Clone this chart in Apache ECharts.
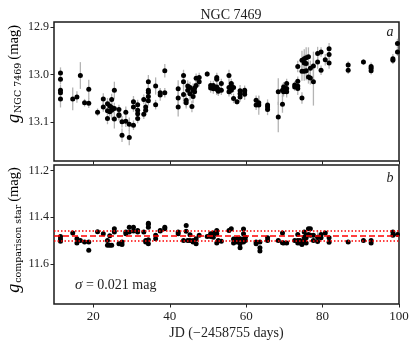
<!DOCTYPE html>
<html>
<head>
<meta charset="utf-8">
<script src="https://cdn.jsdelivr.net/npm/echarts@6/dist/echarts.min.js"></script>
<style>
  html, body { margin: 0; padding: 0; background: #fff; }
  #chart { width: 415px; height: 347px; }
</style>
</head>
<body>
<div id="chart"></div>
<script>
// NGC 7469 light curve (panel a)
const ngcJD = [
  11.4, 11.4, 11.4, 11.4, 11.4, 14.6, 15.7, 16.6, 17.7, 18.8, 18.8,
  21.1, 22.6, 22.6, 23.7, 23.7, 23.7, 24.3, 24.3, 24.8, 24.8, 24.8,
  25.5, 25.5, 25.5, 26.7, 26.7, 26.7, 27.5, 27.5, 28.5, 28.5, 29.4, 29.4,
  30.5, 30.5, 30.5, 31.6, 31.6, 31.6, 31.6, 33.2, 33.2, 33.7, 33.7,
  34.4, 34.4, 34.4, 34.4, 34.4, 36.3, 36.3, 37.5, 37.5, 38.7, 38.7,
  42.2, 42.2, 42.2, 43.6, 43.6, 43.6, 44.3, 44.3, 44.7, 44.7, 45.3, 45.3,
  45.8, 46.1, 46.1, 46.5, 46.5, 46.9, 46.9, 47.7, 47.7,
  49.8, 50.7, 50.7, 51.4, 51.4, 52.3, 52.3, 52.3, 52.3, 52.7, 52.7,
  53.5, 53.5, 55.5, 55.5, 55.5, 56.1, 56.1, 56.1, 56.7, 56.7, 57.6,
  58.4, 58.4, 58.4, 59.6, 59.6, 59.6,
  62.6, 62.6, 63.3, 63.3, 65.6, 65.6, 65.6, 68.4, 68.4, 69.5, 69.5,
  69.8, 69.8, 70.6, 70.6, 70.6,
  72.7, 72.7, 73.5, 73.5, 73.5, 73.5, 74.6, 74.6, 74.6, 75.2, 75.2, 75.2,
  75.7, 75.7, 75.7, 76.3, 76.3, 76.8, 76.8, 77.6, 77.6, 78.7, 78.7,
  79.6, 79.6, 80.7, 81.7, 81.7, 81.7,
  86.7, 86.7, 90.7, 92.7, 92.7, 92.7, 98.4, 98.4, 99.6, 99.6
];
const ngcMag = [
  12.997, 13.010, 13.033, 13.038, 13.051, 13.051, 13.047, 13.002, 13.059, 13.031, 13.060,
  13.079, 13.051, 13.068, 13.061, 13.076, 13.092, 13.066, 13.078, 13.052, 13.069, 13.075,
  13.033, 13.071, 13.093, 13.073, 13.084, 13.086, 13.099, 13.127, 13.079, 13.098, 13.104, 13.132,
  13.057, 13.068, 13.106, 13.063, 13.075, 13.082, 13.092, 13.052, 13.083, 13.068, 13.075,
  13.015, 13.033, 13.037, 13.046, 13.055, 13.024, 13.063, 13.038, 13.043, 12.992, 13.038,
  13.030, 13.049, 13.068, 13.002, 13.015, 13.042, 13.054, 13.059, 13.024, 13.033, 13.027, 13.040,
  13.067, 13.033, 13.046, 13.028, 13.036, 13.008, 13.023, 13.006, 13.015,
  12.999, 13.023, 13.028, 13.023, 13.030, 13.006, 13.010, 13.026, 13.031, 13.031, 13.035,
  13.019, 13.033, 13.002, 13.027, 13.036, 13.019, 13.024, 13.033, 13.027, 13.050, 13.057,
  13.034, 13.040, 13.047, 13.033, 13.036, 13.041,
  13.054, 13.064, 13.059, 13.064, 13.064, 13.068, 13.073, 13.036, 13.089, 13.033, 13.062,
  13.026, 13.036, 13.019, 13.029, 13.036,
  13.022, 13.026, 12.983, 13.014, 13.024, 13.029, 12.970, 12.993, 13.049, 12.967, 12.976, 12.993,
  12.965, 12.977, 12.992, 12.963, 13.005, 12.987, 13.007, 12.982, 13.015, 12.956, 12.974,
  12.953, 12.991, 12.969, 12.946, 12.958, 12.976,
  12.980, 12.991, 12.974, 12.983, 12.987, 12.992, 12.967, 12.970, 12.935, 12.953
];
const ngcErr = [
  0.012, 0.010, 0.012, 0.012, 0.018, 0.024, 0.012, 0.028, 0.008, 0.020, 0.010,
  0.008, 0.012, 0.010, 0.012, 0.010, 0.012, 0.010, 0.010, 0.012, 0.010, 0.020,
  0.018, 0.012, 0.020, 0.010, 0.010, 0.010, 0.012, 0.014, 0.012, 0.012, 0.014, 0.016,
  0.012, 0.010, 0.010, 0.010, 0.012, 0.010, 0.010, 0.010, 0.010, 0.012, 0.010,
  0.014, 0.012, 0.010, 0.010, 0.010, 0.018, 0.010, 0.010, 0.012, 0.014, 0.010,
  0.018, 0.014, 0.020, 0.012, 0.012, 0.020, 0.014, 0.012, 0.012, 0.010, 0.012, 0.014,
  0.012, 0.014, 0.014, 0.010, 0.012, 0.010, 0.010, 0.010, 0.010,
  0.006, 0.010, 0.010, 0.010, 0.010, 0.010, 0.012, 0.010, 0.012, 0.010, 0.010,
  0.010, 0.010, 0.012, 0.014, 0.010, 0.010, 0.010, 0.010, 0.010, 0.010, 0.006,
  0.012, 0.010, 0.010, 0.010, 0.010, 0.012,
  0.010, 0.010, 0.014, 0.020, 0.012, 0.010, 0.012, 0.028, 0.032, 0.014, 0.018,
  0.010, 0.010, 0.010, 0.010, 0.012,
  0.008, 0.008, 0.012, 0.010, 0.012, 0.014, 0.020, 0.020, 0.012, 0.020, 0.018, 0.020,
  0.022, 0.020, 0.020, 0.020, 0.014, 0.016, 0.014, 0.030, 0.050, 0.014, 0.014,
  0.010, 0.010, 0.012, 0.012, 0.010, 0.012,
  0.008, 0.008, 0.006, 0.008, 0.008, 0.008, 0.010, 0.008, 0.010, 0.008
];

// comparison star (panel b)
const compJD = [
  11.4, 11.4, 11.4, 14.6, 15.7, 15.7, 16.6, 17.7, 18.8, 18.8,
  21.1, 22.6, 23.7, 23.7, 24.3, 24.3, 24.8, 25.5, 25.5, 26.7, 27.5, 27.5,
  28.5, 28.5, 29.4, 29.4, 30.5, 30.5, 31.6, 31.6, 33.2, 33.7, 33.7,
  34.4, 34.4, 34.4, 34.4, 34.4, 36.3, 36.3, 37.5, 37.5, 38.7, 38.7,
  42.2, 42.2, 43.6, 44.3, 44.3, 44.7, 45.3, 45.3, 46.1, 46.1, 46.9, 46.9, 47.7,
  49.8, 50.7, 50.7, 51.4, 51.4, 52.3, 52.3, 52.3, 52.7, 53.5,
  55.5, 56.1, 56.7, 56.7, 57.6, 57.6, 58.4, 58.4, 58.4, 59.3, 59.3, 59.3, 59.3, 59.8, 59.8,
  62.6, 62.6, 63.6, 63.6, 63.6, 65.6, 65.6, 68.4, 69.5, 69.5, 69.8, 70.6,
  72.7, 73.5, 73.5, 73.5, 74.1, 74.1, 74.6, 74.6, 75.2, 75.2, 75.2,
  75.7, 75.7, 75.7, 76.3, 76.3, 76.8, 76.8, 77.6, 77.6, 78.7, 78.7,
  79.6, 79.6, 80.7, 81.7, 81.7, 86.7, 90.7, 92.7, 92.7, 98.4, 98.4, 99.6
];
const compMag = [
  11.483, 11.494, 11.503, 11.468, 11.493, 11.511, 11.500, 11.507, 11.507, 11.542,
  11.463, 11.471, 11.500, 11.520, 11.480, 11.520, 11.520, 11.450, 11.464, 11.514, 11.507, 11.517,
  11.464, 11.471, 11.443, 11.464, 11.443, 11.460, 11.457, 11.464, 11.464, 11.500, 11.507,
  11.426, 11.431, 11.443, 11.497, 11.514, 11.478, 11.493, 11.457, 11.460, 11.443, 11.450,
  11.464, 11.471, 11.500, 11.436, 11.461, 11.500, 11.476, 11.500, 11.500, 11.507, 11.493, 11.514, 11.478,
  11.483, 11.471, 11.483, 11.468, 11.486, 11.457, 11.471, 11.511, 11.500, 11.503,
  11.457, 11.450, 11.494, 11.511, 11.493, 11.507, 11.493, 11.514, 11.531, 11.451, 11.471, 11.493, 11.507, 11.486, 11.500,
  11.507, 11.514, 11.507, 11.531, 11.545, 11.488, 11.500, 11.500, 11.468, 11.510, 11.511, 11.511,
  11.500, 11.474, 11.500, 11.511, 11.500, 11.511, 11.511, 11.517, 11.464, 11.486, 11.500,
  11.478, 11.488, 11.511, 11.450, 11.474, 11.450, 11.478, 11.478, 11.500, 11.486, 11.504,
  11.474, 11.488, 11.468, 11.488, 11.508, 11.507, 11.500, 11.500, 11.511, 11.464, 11.478, 11.474
];
const compMean = 11.48;
const compSigma = 0.021;

const jdTicks = [20, 40, 60, 80, 100];
const ngcTicks = [12.9, 13.0, 13.1];
const compTicks = [11.2, 11.4, 11.6];

const ngcData = ngcJD.map((x, i) => [x, ngcMag[i], ngcErr[i]]);
const compData = compJD.map((x, i) => [x, compMag[i], i === 114 ? 0.03 : 0.005]);

const FONT = 'Liberation Serif';
const INK = '#222';

function errBars(params, api) {
  const x = api.value(0), y = api.value(1), e = api.value(2);
  const p1 = api.coord([x, y - e]);
  const p2 = api.coord([x, y + e]);
  return {
    type: 'line',
    shape: { x1: p1[0], y1: p1[1], x2: p2[0], y2: p2[1] },
    style: { stroke: '#b4b4b4', lineWidth: 1.3 }
  };
}

function yAxis(grid, min, max, ticks) {
  return {
    type: 'value', gridIndex: grid, inverse: true, min: min, max: max,
    axisLine: { show: false },
    splitLine: { show: false },
    axisTick: { show: true, inside: false, length: 3.5, customValues: ticks, lineStyle: { color: INK, width: 1 } },
    axisLabel: {
      customValues: ticks, margin: 5, fontFamily: FONT, fontSize: 12, color: INK,
      formatter: v => v.toFixed(1)
    }
  };
}

function xAxis(grid, showLabels) {
  return {
    type: 'value', gridIndex: grid, min: 9.7, max: 100,
    axisLine: { show: false },
    splitLine: { show: false },
    axisTick: { show: true, inside: false, length: 3.5, customValues: jdTicks, lineStyle: { color: INK, width: 1 } },
    axisLabel: {
      show: showLabels, customValues: jdTicks, margin: 6,
      fontFamily: FONT, fontSize: 13, color: INK
    }
  };
}

const chart = echarts.init(document.getElementById('chart'), null, { renderer: 'canvas' });

const labelRich = {
  g: { fontFamily: FONT, fontStyle: 'italic', fontSize: 18, color: INK },
  sub: { fontFamily: 'DejaVu Serif', fontSize: 9.5, color: INK, padding: [9, 0, 0, 1] },
  m: { fontFamily: FONT, fontSize: 14.5, color: INK, padding: [0, 0, 0, 3] }
};

chart.setOption({
  animation: false,
  backgroundColor: '#fff',
  title: {
    text: 'NGC 7469', left: 226, top: 3, textAlign: 'center',
    textStyle: { fontFamily: FONT, fontSize: 14, fontWeight: 'normal', color: INK }
  },
  grid: [
    { left: 54, top: 22, width: 345, height: 139, show: true, borderColor: '#1a1a1a', borderWidth: 1.5 },
    { left: 54, top: 165, width: 345, height: 139, show: true, borderColor: '#1a1a1a', borderWidth: 1.5 }
  ],
  xAxis: [
    xAxis(0, false),
    Object.assign(xAxis(1, true), {
      name: 'JD (\u22122458755 days)', nameLocation: 'middle', nameGap: 22,
      nameTextStyle: { fontFamily: FONT, fontSize: 14, color: INK }
    })
  ],
  yAxis: [
    yAxis(0, 12.89, 13.181, ngcTicks),
    yAxis(1, 11.177, 11.772, compTicks)
  ],
  graphic: [
    {
      type: 'text', x: 14, y: 74, rotation: Math.PI / 2,
      style: {
        text: '{g|g}{sub|NGC 7469}{m|(mag)}', rich: labelRich,
        align: 'center', verticalAlign: 'middle'
      }
    },
    {
      type: 'text', x: 14, y: 230, rotation: Math.PI / 2,
      style: {
        text: '{g|g}{sub|comparison star}{m|(mag)}', rich: labelRich,
        align: 'center', verticalAlign: 'middle'
      }
    },
    {
      type: 'text', x: 390, y: 32,
      style: { text: 'a', fontFamily: FONT, fontStyle: 'italic', fontSize: 14, fill: INK, align: 'center', verticalAlign: 'middle' }
    },
    {
      type: 'text', x: 390, y: 178,
      style: { text: 'b', fontFamily: FONT, fontStyle: 'italic', fontSize: 14, fill: INK, align: 'center', verticalAlign: 'middle' }
    },
    {
      type: 'text', x: 75, y: 285,
      style: {
        text: '{s|\u03c3} = 0.021 mag',
        rich: { s: { fontFamily: FONT, fontStyle: 'italic', fontSize: 15, fill: INK } },
        fontFamily: FONT, fontSize: 14, fill: INK, verticalAlign: 'middle'
      }
    }
  ],
  series: [
    {
      type: 'custom', xAxisIndex: 0, yAxisIndex: 0, data: ngcData,
      encode: { x: 0, y: 1 }, renderItem: errBars, silent: true, z: 1
    },
    {
      type: 'scatter', xAxisIndex: 0, yAxisIndex: 0, data: ngcData.map(d => [d[0], d[1]]),
      symbol: 'circle', symbolSize: 5, itemStyle: { color: '#000', opacity: 1 }, silent: true, z: 3
    },
    {
      type: 'line', xAxisIndex: 1, yAxisIndex: 1, data: [], silent: true, z: 1,
      markLine: {
        silent: true, symbol: 'none', label: { show: false },
        data: [
          { yAxis: compMean, lineStyle: { color: '#ff0000', width: 1.5, type: [6, 3] } },
          { yAxis: compMean - compSigma, lineStyle: { color: '#ff0000', width: 1.5, type: [1.5, 2] } },
          { yAxis: compMean + compSigma, lineStyle: { color: '#ff0000', width: 1.5, type: [1.5, 2] } }
        ]
      }
    },
    {
      type: 'custom', xAxisIndex: 1, yAxisIndex: 1, data: compData,
      encode: { x: 0, y: 1 }, renderItem: errBars, silent: true, z: 2
    },
    {
      type: 'scatter', xAxisIndex: 1, yAxisIndex: 1, data: compData.map(d => [d[0], d[1]]),
      symbol: 'circle', symbolSize: 5, itemStyle: { color: '#000', opacity: 1 }, silent: true, z: 3
    }
  ]
});
</script>
</body>
</html>
